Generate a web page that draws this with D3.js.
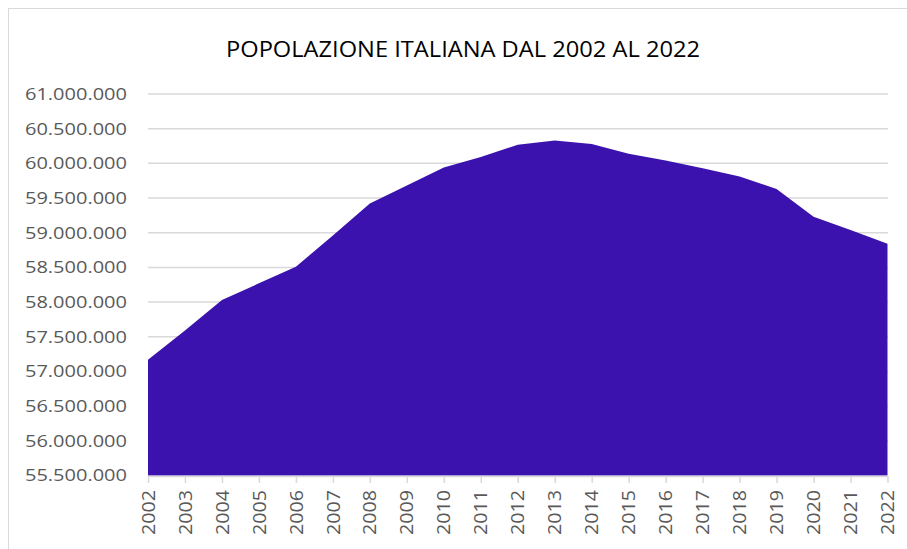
<!DOCTYPE html>
<html><head><meta charset="utf-8">
<script src="https://cdn.jsdelivr.net/npm/d3@7"></script>
<style>body{margin:0;background:#fff;} svg{display:block;}</style>
</head><body>
<svg id="c" width="907" height="549"></svg>
<script>
const years = ["2002","2003","2004","2005","2006","2007","2008","2009","2010","2011","2012","2013","2014","2015","2016","2017","2018","2019","2020","2021","2022"];
const population = [57170000,57590000,58030000,58270000,58510000,58960000,59420000,59680000,59940000,60090000,60270000,60330000,60280000,60140000,60040000,59930000,59810000,59630000,59230000,59040000,58840000];
const yTicks = [55500000,56000000,56500000,57000000,57500000,58000000,58500000,59000000,59500000,60000000,60500000,61000000];
const title = "POPOLAZIONE ITALIANA DAL 2002 AL 2022";

const svg = d3.select("#c");
const fmt = v => d3.format(",")(v).replace(/,/g,".");

svg.append("rect").attr("x",8.5).attr("y",8.5).attr("width",905).attr("height",545)
  .attr("fill","#fff").attr("stroke","#d9d9d9").attr("stroke-width",1);

const x = d3.scalePoint().domain(years).range([148,887.5]);
const y = d3.scaleLinear().domain([55500000,61000000]).range([475.5,94]);

// gridlines
svg.append("g").selectAll("line").data(yTicks.slice(1)).join("line")
  .attr("x1",148).attr("x2",888).attr("y1",d=>y(d)).attr("y2",d=>y(d))
  .attr("stroke","#d9d9d9").attr("stroke-width",1.5);

// area
const area = d3.area().x((d,i)=>x(years[i])).y0(y(55500000)).y1(d=>y(d));
svg.append("path").datum(population).attr("d",area).attr("fill","#3b12ad");

// y labels
const ya = svg.append("g").attr("transform","translate(127,0)")
  .call(d3.axisLeft(y).tickValues(yTicks).tickFormat(fmt).tickSize(0).tickPadding(0));
ya.select(".domain").remove();
ya.selectAll("text").attr("fill","#595959").style("font-family","'Open Sans', sans-serif")
  .style("font-size","17px").attr("textLength",102).attr("lengthAdjust","spacingAndGlyphs");

// x axis
const xa = svg.append("g").attr("transform","translate(0,476)")
  .call(d3.axisBottom(x).tickSize(7).tickSizeOuter(0));
xa.select(".domain").attr("stroke","#d9d9d9").attr("stroke-width",1.5).attr("d","M148,0.5H888");
xa.selectAll(".tick line").attr("stroke","#d9d9d9").attr("stroke-width",1.5);
xa.selectAll("text").attr("fill","#595959").style("font-family","'Open Sans', sans-serif")
  .style("font-size","17.5px").attr("textLength",45).attr("lengthAdjust","spacingAndGlyphs")
  .attr("transform","rotate(-90)").attr("text-anchor","end").attr("dy","0.35em").attr("x",-14).attr("y",0);

// title
svg.append("text").attr("x",463).attr("y",57).attr("text-anchor","middle")
  .attr("fill","#000").style("font-family","'Liberation Sans Narrow','Open Sans',sans-serif")
  .style("font-size","22px").attr("textLength",474).attr("lengthAdjust","spacingAndGlyphs")
  .text(title);
</script>
</body></html>
